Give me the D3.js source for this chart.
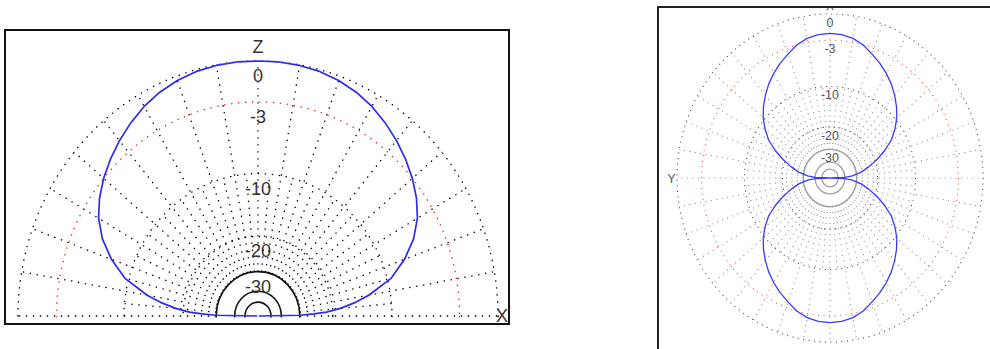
<!DOCTYPE html>
<html>
<head>
<meta charset="utf-8">
<script src="https://cdn.jsdelivr.net/npm/d3@7"></script>
<style>
body { margin: 0; background: #fff; }
svg { display: block; }
text { font-family: "Liberation Sans", Arial, sans-serif; }
</style>
</head>
<body>
<svg id="chart" width="990" height="349"></svg>
<script>
// elevation pattern (left plot), one side, mirrored for the other
var elevAngles = [0, 1, 2, 3, 5, 7.5, 10, 15, 20, 25, 30, 35, 40, 45, 50, 55, 60, 65, 70, 75, 80, 85, 90];
var elevGain   = [-99, -30, -25, -21.5, -18.3, -15.3, -13, -9.5, -7.4, -5.75, -4.55, -3.7, -3.0, -2.4, -1.85, -1.35, -0.9, -0.55, -0.3, -0.12, -0.04, 0, 0];

// azimuth pattern (right plot), one quarter, mirrored to the others
var azAngles = [0, 5, 10, 15, 20, 25, 30, 35, 40, 45, 50, 55, 60, 65, 70, 75, 80, 85, 88, 90];
var azGain   = [-2.15, -2.25, -2.5, -3.0, -3.75, -4.45, -5.25, -6.15, -7.2, -8.35, -9.65, -11.3, -13.2, -16, -19.3, -23, -27, -33, -40, -99];

// grid rings (dB) and labels
var dottedRings = [0, -10, -20];
var redRing = -3;
var solidRings = [-30, -40, -50];
var ringLabels = [0, -3, -10, -20, -30];

// ARRL log scale: 0.89 per 2 dB
function arrl(db) { return Math.pow(0.89, -db / 2); }

var svg = d3.select("#chart");
var defs = svg.append("defs");

function panel(opt) {
  var g = svg.append("g");
  var x = d3.scaleLinear().domain([-1, 1]).range([opt.cx - opt.rx, opt.cx + opt.rx]);
  var y = d3.scaleLinear().domain([-1, 1]).range([opt.cy + opt.ry, opt.cy - opt.ry]);

  defs.append("clipPath").attr("id", opt.id)
    .append("rect").attr("x", opt.clip[0]).attr("y", opt.clip[1])
    .attr("width", opt.clip[2]).attr("height", opt.clip[3]);
  var c = g.append("g").attr("clip-path", "url(#" + opt.id + ")");

  function pt(deg, r) {
    var a = deg * Math.PI / 180;
    return opt.polar(a, r, x, y);
  }

  // radials
  var rIn = arrl(-30), rOut = arrl(0), rMid = arrl(-10);
  var radials = [];
  for (var a = 0; a < opt.span; a += 10) radials.push([a, rOut]);
  if (opt.span === 180) radials.push([180, rOut]);
  for (var b = 5; b < opt.span; b += 10) radials.push([b, rMid]);
  c.selectAll(".radial").data(radials).enter().append("line")
    .attr("x1", function(d) { return pt(d[0], rIn)[0]; })
    .attr("y1", function(d) { return pt(d[0], rIn)[1]; })
    .attr("x2", function(d) { return pt(d[0], d[1])[0]; })
    .attr("y2", function(d) { return pt(d[0], d[1])[1]; })
    .attr("stroke", opt.radialColor).attr("stroke-width", opt.dotWidth)
    .attr("stroke-dasharray", opt.dash);

  function ring(db) {
    return c.append("ellipse")
      .attr("cx", opt.cx).attr("cy", opt.cy)
      .attr("rx", x(arrl(db)) - opt.cx)
      .attr("ry", opt.cy - y(arrl(db)))
      .attr("fill", "none");
  }
  dottedRings.forEach(function(db) {
    ring(db).attr("stroke", opt.ringColor).attr("stroke-width", opt.dotWidth).attr("stroke-dasharray", opt.dash);
  });
  ring(redRing).attr("stroke", opt.redColor).attr("stroke-width", opt.dotWidth).attr("stroke-dasharray", opt.dash);
  solidRings.forEach(function(db) {
    ring(db).attr("stroke", opt.solidColor).attr("stroke-width", opt.solidWidth);
  });

  // labels
  c.selectAll(".lab").data(ringLabels).enter().append("text")
    .attr("x", opt.cx)
    .attr("y", function(d) { return y(arrl(d)) + opt.labelDy; })
    .attr("text-anchor", "middle")
    .attr("font-size", opt.fontSize)
    .attr("fill", opt.textColor)
    .text(function(d) { return d; });

  // pattern
  var line = d3.line()
    .x(function(d) { return pt(d[0], arrl(d[1]))[0]; })
    .y(function(d) { return pt(d[0], arrl(d[1]))[1]; });
  c.append("path").datum(opt.pattern)
    .attr("d", line)
    .attr("fill", "none")
    .attr("stroke", opt.blue)
    .attr("stroke-width", opt.blueWidth)
    .attr("stroke-linejoin", "round");

  return { g: g, c: c, x: x, y: y };
}

// left: elevation, angle from +X counterclockwise
var elevData = elevAngles.map(function(a, i) { return [a, elevGain[i]]; });
for (var i = elevAngles.length - 2; i >= 0; i--) elevData.push([180 - elevAngles[i], elevGain[i]]);

var left = panel({
  id: "clipL", cx: 258, cy: 316, rx: 240, ry: 255, span: 180,
  clip: [6, 31, 502, 286.5],
  polar: function(a, r, x, y) { return [x(r * Math.cos(a)), y(r * Math.sin(a))]; },
  dash: "1.4,5.6", dotWidth: 1.3, radialColor: "#000", ringColor: "#000", redColor: "#ee2020",
  solidColor: "#111", solidWidth: 1.6, labelDy: 21, fontSize: 18, textColor: "#333",
  pattern: elevData, blue: "#2b2bf2", blueWidth: 1.7
});
left.g.append("text").attr("x", 258).attr("y", 53).attr("text-anchor", "middle")
  .attr("font-size", 18).attr("fill", "#333").text("Z");
left.g.append("text").attr("x", 502).attr("y", 322).attr("text-anchor", "middle")
  .attr("font-size", 18).attr("fill", "#333").text("X");
left.g.append("rect").attr("x", 5).attr("y", 30).attr("width", 504).attr("height", 294)
  .attr("fill", "none").attr("stroke", "#111").attr("stroke-width", 2);

// right: azimuth, angle from X (up) clockwise
var azData = [];
azAngles.forEach(function(a, i) { azData.push([a, azGain[i]]); });
for (var j = azAngles.length - 2; j >= 0; j--) azData.push([180 - azAngles[j], azGain[j]]);
for (var k = 1; k < azAngles.length; k++) azData.push([180 + azAngles[k], azGain[k]]);
for (var m = azAngles.length - 2; m >= 0; m--) azData.push([360 - azAngles[m], azGain[m]]);

var right = panel({
  id: "clipR", cx: 830, cy: 178, rx: 153, ry: 164, span: 360,
  clip: [659, 8, 331, 341],
  polar: function(a, r, x, y) { return [x(r * Math.sin(a)), y(r * Math.cos(a))]; },
  dash: "1,4.5", dotWidth: 1.1, radialColor: "#8a8a8a", ringColor: "#444", redColor: "#ff4a4a",
  solidColor: "#a0a0a0", solidWidth: 1.3, labelDy: 13, fontSize: 12.5, textColor: "#555",
  pattern: azData, blue: "#3a3aff", blueWidth: 1.3
});
right.c.append("text").attr("x", 830).attr("y", 9.5).attr("text-anchor", "middle")
  .attr("font-size", 12).attr("fill", "#555").text("X");
right.g.append("text").attr("x", 671.5).attr("y", 183).attr("text-anchor", "middle")
  .attr("font-size", 12).attr("fill", "#555").text("Y");
right.g.append("path").attr("d", "M658,349V7H990")
  .attr("fill", "none").attr("stroke", "#222").attr("stroke-width", 2);
</script>
</body>
</html>
